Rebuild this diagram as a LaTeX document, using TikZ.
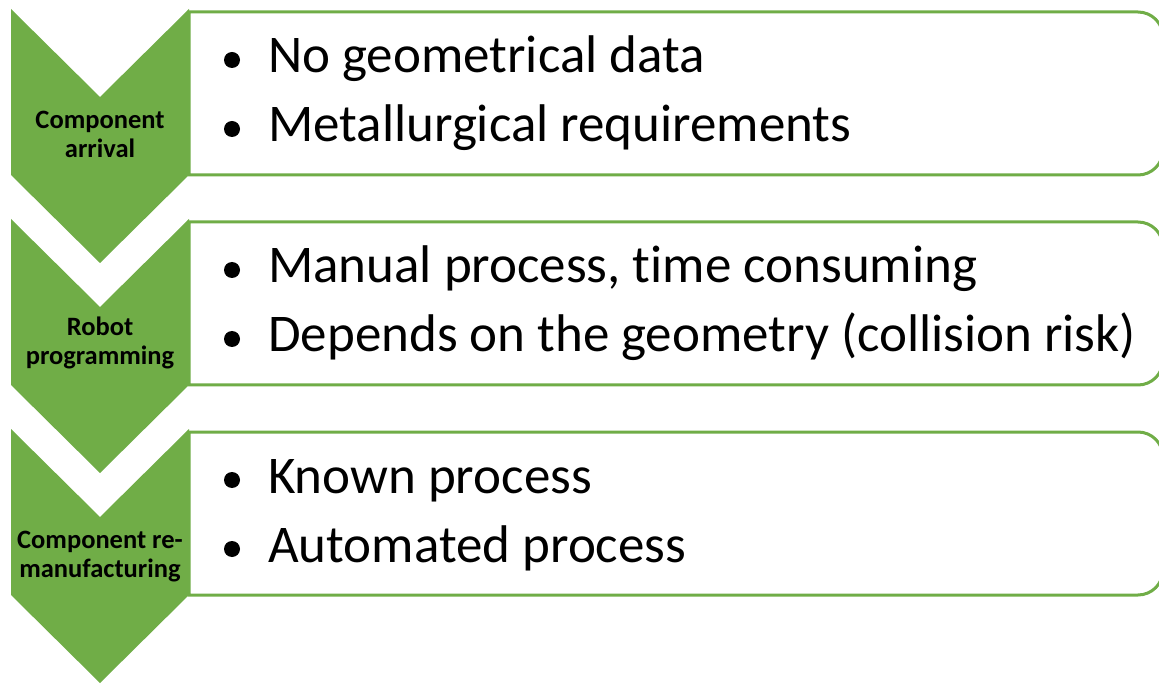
\documentclass[tikz,border=0pt]{standalone}
\usepackage{fontspec}
\setmainfont[Ligatures=NoCommon]{Carlito}
\definecolor{leaf}{HTML}{70AD47}
\begin{document}
\begin{tikzpicture}[x=1pt,y=-1pt,
  chevron/.style={fill=leaf,draw=none},
  listbox/.style={draw=leaf,line width=3pt,fill=white},
  stage/.style={font=\bfseries\fontsize{26.5}{29}\selectfont,align=center,anchor=base,inner sep=0pt},
  item/.style={font=\fontsize{53}{60}\selectfont,anchor=base west,inner sep=0pt},
  dot/.style={circle,fill=black,inner sep=0pt,minimum size=16pt}]
\useasboundingbox (0,0) rectangle (1159,684);
\clip (0,0) rectangle (1159,684);

% three stages, 210 units apart
\foreach \t/\n in {9/1,219/2,429/3}{
  % list panel with rounded right-hand corners
  \draw[listbox] (189,\t+3) -- (1138,\t+3) arc[start angle=-90,end angle=0,radius=25]
     -- (1163,\t+141) arc[start angle=0,end angle=90,radius=25] -- (189,\t+166) -- cycle;
  % chevron arrow
  \fill[chevron] (11,\t) -- (100,\t+88) -- (189,\t) -- (189,\t+166)
     -- (100,\t+254) -- (11,\t+166) -- cycle;
  % bullets
  \node[dot] (b\n a) at (232,\t+51) {};
  \node[dot] (b\n b) at (232,\t+120) {};
}

% stage labels, placed by the baseline of their last line
\node[stage] (s1) at (100,158) {Component\\arrival};
\node[stage] (s2) at (100,365) {Robot\\programming};
\node[stage] (s3) at (100,577) {Component re-\\manufacturing};

\node[item] (t1a) at (268,73) {No geometrical data};
\node[item] (t1b) at (268,142) {Metallurgical requirements};
\node[item] (t2a) at (268,283) {Manual process, time consuming};
\node[item] (t2b) at (268,352) {Depends on the geometry (collision risk)};
\node[item] (t3a) at (268,493) {Known process};
\node[item] (t3b) at (268,562) {Automated process};
\end{tikzpicture}
\end{document}
